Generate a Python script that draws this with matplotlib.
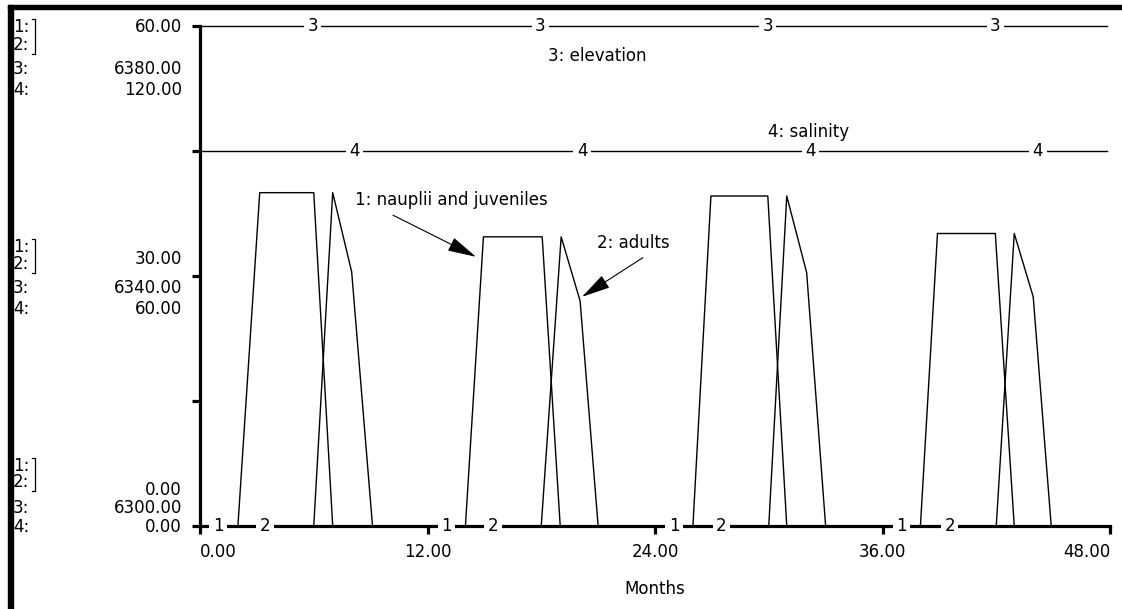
import matplotlib
matplotlib.use("Agg")
import matplotlib.pyplot as plt
from matplotlib.lines import Line2D
from matplotlib.patches import Rectangle

plt.rcParams['font.family'] = ['DejaVu Sans']
plt.rcParams['font.size'] = 12

# series 1: nauplii and juveniles (scale 0-60)
nauplii_months = [0, 2.0, 3.15, 6.0, 7.0, 14.0, 14.95, 18.05, 19.0,
                  26.0, 26.95, 29.95, 30.95, 38.0, 38.9, 41.95, 42.95, 48]
nauplii = [0, 0, 40, 40, 0, 0, 34.7, 34.7, 0,
           0, 39.6, 39.6, 0, 0, 35.1, 35.1, 0, 0]

# series 2: adults (scale 0-60)
adult_months = [0, 6.0, 7.0, 8.0, 9.1, 18.0, 19.05, 20.05, 21.0,
                30.0, 30.95, 32.0, 33.0, 42.0, 42.95, 43.95, 44.9, 48]
adults = [0, 0, 40, 30.5, 0, 0, 34.7, 27.0, 0,
          0, 39.6, 30.4, 0, 0, 35.1, 27.5, 0, 0]

# series 3: elevation (scale 6300-6380), series 4: salinity (scale 0-120)
elev_months = [0, 47.85]
elevation = [6380, 6380]
sal_months = [0, 47.85]
salinity = [90, 90]

x_ticks = [0, 12, 24, 36, 48]
x_labels = ['0.00', '12.00', '24.00', '36.00', '48.00']
scale_12 = [60, 30, 0]
scale_3 = [6380, 6340, 6300]
scale_4 = [120, 60, 0]

W, H = 1122, 609
fs = 12
fig = plt.figure(figsize=(W / 100, H / 100), dpi=100)
ax = fig.add_axes([200 / W, 1 - 526 / H, 910 / W, 500 / H])
ax.set_xlim(0, 48)
ax.set_ylim(0, 60)

ax3 = ax.twinx()
ax3.set_ylim(6300, 6380)
ax3.axis('off')
ax4 = ax.twinx()
ax4.set_ylim(0, 120)
ax4.axis('off')

lw = 1.0
ax.plot(nauplii_months, nauplii, color='black', lw=lw, clip_on=False)
ax.plot(adult_months, adults, color='black', lw=lw, clip_on=False)
ax3.plot(elev_months, elevation, color='black', lw=lw, clip_on=False)
ax4.plot(sal_months, salinity, color='black', lw=lw, clip_on=False)

# little series numbers sitting on the lines
tag = dict(ha='center', va='center', fontsize=fs, zorder=6, clip_on=False,
           bbox=dict(boxstyle='square,pad=0.2', fc='white', ec='none'))
for m in [0.95, 13.0, 25.0, 37.0]:
    ax.text(m, 0, '1', **tag)
for m in [3.43, 15.45, 27.5, 39.55]:
    ax.text(m, 0, '2', **tag)
for m in [5.95, 17.95, 29.95, 41.95]:
    ax3.text(m, 6380, '3', **tag)
for m in [8.15, 20.15, 32.2, 44.2]:
    ax4.text(m, 90, '4', **tag)

# axes look
for s in ['top', 'right']:
    ax.spines[s].set_visible(False)
for s in ['left', 'bottom']:
    ax.spines[s].set_linewidth(2.3)
ax.set_yticks([0, 15, 30, 45, 60])
ax.set_yticklabels([])
ax.set_xticks(x_ticks)
ax.set_xticklabels(x_labels)
ax.tick_params(direction='out', length=6, width=2.3, pad=6, labelsize=fs)
xt = ax.get_xticklabels()
xt[0].set_ha('left')
xt[-1].set_ha('right')
ax.set_xlabel('Months', fontsize=fs, labelpad=14)

# annotations
arrow = dict(arrowstyle='-|>,head_length=1.8,head_width=0.45', color='black',
             lw=0.8, mutation_scale=10, shrinkA=0, shrinkB=0)
ax.text(8.2, 39.1, '1: nauplii and juveniles', ha='left', va='center', fontsize=fs)
ax.annotate('', xy=(14.56, 32.3), xytext=(10.18, 37.3), arrowprops=arrow)
ax.text(20.94, 34.0, '2: adults', ha='left', va='center', fontsize=fs)
ax.annotate('', xy=(20.15, 27.5), xytext=(23.36, 32.2), arrowprops=arrow)
ax.text(18.35, 56.4, '3: elevation', ha='left', va='center', fontsize=fs)
ax.text(29.96, 47.3, '4: salinity', ha='left', va='center', fontsize=fs)

# scale legend on the left: three groups at 60, 30 and 0 on the left axis
prefix_rows = [[1, 19, 43, 64], [-29, -12, 12, 33], [-60, -44, -18, 1]]
value_rows = [[1, 43, 64], [-17, 12, 33], [-36, -18, 1]]
for i, t in enumerate(scale_12):
    ty = H - ax.transData.transform((0, t))[1]
    for k, lab in enumerate(['1:', '2:', '3:', '4:']):
        fig.text(13 / W, 1 - (ty + prefix_rows[i][k]) / H, lab,
                 ha='left', va='center', fontsize=fs)
    y1 = ty + prefix_rows[i][0] - 8
    y2 = ty + prefix_rows[i][1] + 9
    fig.add_artist(Line2D([32 / W, 35 / W, 35 / W, 32 / W],
                          [1 - y1 / H, 1 - y1 / H, 1 - y2 / H, 1 - y2 / H],
                          color='black', lw=0.9))
    vals = [f'{scale_12[i]:.2f}', f'{scale_3[i]:.2f}', f'{scale_4[i]:.2f}']
    for k, v in enumerate(vals):
        fig.text(182 / W, 1 - (ty + value_rows[i][k]) / H, v,
                 ha='right', va='center', fontsize=fs)

# thick window frame on top and left
fig.add_artist(Rectangle((8 / W, 1 - 9 / H), 1 - 8 / W, 4 / H,
                         transform=fig.transFigure, color='black'))
fig.add_artist(Rectangle((8 / W, 0), 5 / W, 1 - 5 / H,
                         transform=fig.transFigure, color='black'))

fig.savefig('out.png', dpi=100)
